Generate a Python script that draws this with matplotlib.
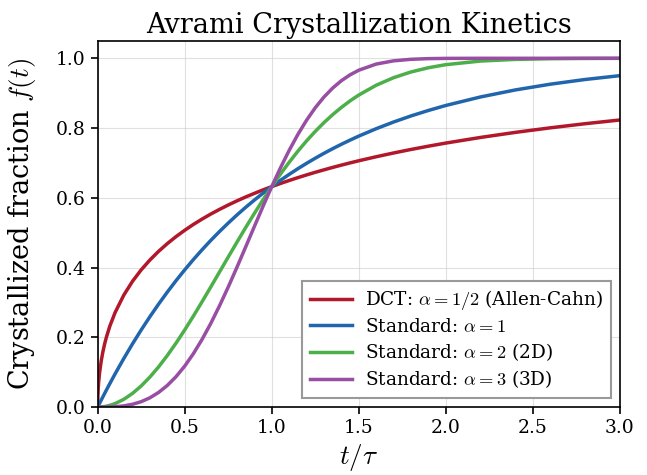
import matplotlib
matplotlib.use("Agg")
import matplotlib.pyplot as plt

plt.rcParams['font.family'] = ['DejaVu Serif']
plt.rcParams['mathtext.fontset'] = 'cm'

# time points t/tau
t = [0, 0.001, 0.003, 0.005, 0.01, 0.02, 0.03, 0.04, 0.05, 0.07, 0.1, 0.15, 0.2, 0.25,
     0.3, 0.35, 0.4, 0.45, 0.5, 0.55, 0.6, 0.65, 0.7, 0.75, 0.8, 0.85, 0.9, 0.95,
     1.0, 1.05, 1.1, 1.15, 1.2, 1.25, 1.3, 1.35, 1.4, 1.45, 1.5, 1.6, 1.7, 1.8,
     1.9, 2.0, 2.2, 2.4, 2.6, 2.8, 3.0]

f_dct = [0, 0.0311, 0.0533, 0.0683, 0.0952, 0.1319, 0.1590, 0.1813, 0.2004, 0.2325,
         0.2711, 0.3211, 0.3606, 0.3935, 0.4217, 0.4466, 0.4687, 0.4887, 0.5069,
         0.5237, 0.5391, 0.5535, 0.5668, 0.5794, 0.5912, 0.6023, 0.6127, 0.6227,
         0.6321, 0.6411, 0.6496, 0.6578, 0.6656, 0.6731, 0.6802, 0.6871, 0.6937,
         0.7001, 0.7062, 0.7177, 0.7285, 0.7386, 0.7480, 0.7569, 0.7731, 0.7876,
         0.8006, 0.8124, 0.8231]

f_a1 = [0, 0.0010, 0.0030, 0.0050, 0.0100, 0.0198, 0.0296, 0.0392, 0.0488, 0.0676,
        0.0952, 0.1393, 0.1813, 0.2212, 0.2592, 0.2953, 0.3297, 0.3624, 0.3935,
        0.4231, 0.4512, 0.4780, 0.5034, 0.5276, 0.5507, 0.5726, 0.5934, 0.6133,
        0.6321, 0.6501, 0.6671, 0.6834, 0.6988, 0.7135, 0.7275, 0.7408, 0.7534,
        0.7654, 0.7769, 0.7981, 0.8173, 0.8347, 0.8504, 0.8647, 0.8892, 0.9093,
        0.9257, 0.9392, 0.9502]

f_a2 = [0, 0.0000, 0.0000, 0.0000, 0.0001, 0.0004, 0.0009, 0.0016, 0.0025, 0.0049,
        0.0100, 0.0222, 0.0392, 0.0606, 0.0861, 0.1153, 0.1479, 0.1833, 0.2212,
        0.2610, 0.3023, 0.3446, 0.3874, 0.4302, 0.4727, 0.5145, 0.5551, 0.5944,
        0.6321, 0.6680, 0.7018, 0.7335, 0.7631, 0.7904, 0.8155, 0.8384, 0.8591,
        0.8779, 0.8946, 0.9227, 0.9444, 0.9608, 0.9729, 0.9817, 0.9921, 0.9968,
        0.9988, 0.9996, 0.9999]

f_a3 = [0, 0.0000, 0.0000, 0.0000, 0.0000, 0.0000, 0.0000, 0.0001, 0.0001, 0.0003,
        0.0010, 0.0034, 0.0080, 0.0155, 0.0266, 0.0420, 0.0620, 0.0871, 0.1175,
        0.1533, 0.1943, 0.2401, 0.2904, 0.3442, 0.4007, 0.4589, 0.5176, 0.5757,
        0.6321, 0.6858, 0.7358, 0.7815, 0.8224, 0.8582, 0.8889, 0.9146, 0.9357,
        0.9526, 0.9658, 0.9834, 0.9927, 0.9971, 0.9990, 0.9997, 1.0000, 1.0000,
        1.0000, 1.0000, 1.0000]

labels = [r'DCT: $\alpha=1/2$ (Allen-Cahn)',
          r'Standard: $\alpha=1$',
          r'Standard: $\alpha=2$ (2D)',
          r'Standard: $\alpha=3$ (3D)']
colors = ['#b2182b', '#2166ac', '#4daf4a', '#984ea3']

fig = plt.figure(figsize=(6.47, 4.75), dpi=100)
ax = fig.add_axes([0.151, 0.143, 0.807, 0.771])

for y, lab, c in zip([f_dct, f_a1, f_a2, f_a3], labels, colors):
    ax.plot(t, y, color=c, lw=2.5, label=lab)

ax.set_xlim(0, 3.0)
ax.set_ylim(0, 1.05)
ax.set_xticks([0, 0.5, 1.0, 1.5, 2.0, 2.5, 3.0])
ax.set_yticks([0, 0.2, 0.4, 0.6, 0.8, 1.0])
ax.grid(True, color='#cccccc', alpha=0.6, lw=0.8)
ax.tick_params(labelsize=13.5, width=1.2, length=5)
for s in ax.spines.values():
    s.set_linewidth(1.2)

ax.set_xlabel(r'$t/\tau$', fontsize=19.5)
ax.set_ylabel(r'Crystallized fraction $f(t)$', fontsize=19.5)
ax.yaxis.set_label_coords(-0.115, 0.5)
ax.set_title('Avrami Crystallization Kinetics', fontsize=19.5)

leg = ax.legend(loc='lower right', fontsize=13.3, fancybox=False, framealpha=1,
                edgecolor='#999999', labelspacing=0.3, handlelength=2.3,
                handletextpad=0.7)
leg.get_frame().set_linewidth(1.5)

fig.savefig('out.png', dpi=100)
